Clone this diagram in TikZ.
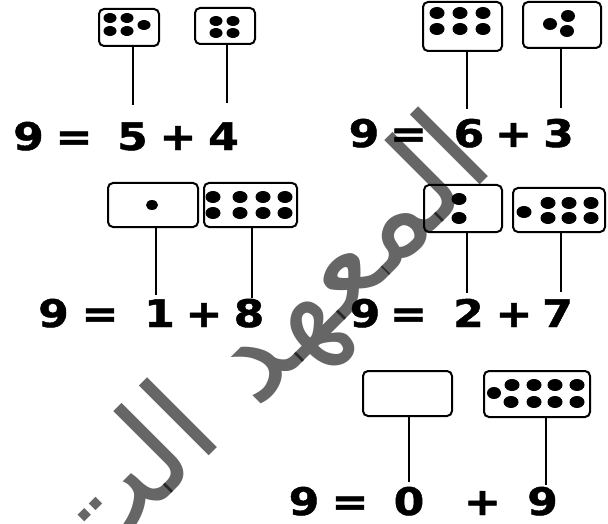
\documentclass[tikz,border=0pt]{standalone}
\usepackage{fontspec}
\setmainfont{DejaVu Sans}
\newfontfamily\numfont[FakeStretch=1.16, FakeBold=1.2]{DejaVu Sans Bold}
\newfontfamily\arabicfont[Script=Arabic]{DejaVu Sans}
\TeXXeTstate=1
\begin{document}
\begin{tikzpicture}[x=1pt,y=-1pt,
  box/.style={draw, line width=2pt, rounded corners=5pt, inner sep=0pt, fill=white},
  num/.style={font=\numfont\fontsize{38}{40}\selectfont, anchor=base, inner sep=0pt},
  stem/.style={line width=2.5pt},
  wm/.style={rotate=45, text=black, text opacity=0.6, inner sep=0pt,
             font=\arabicfont\fontsize{130}{130}\selectfont}]
\useasboundingbox (0,0) rectangle (608,524);

% ---------- boxes ----------
\node[box, minimum width=60pt, minimum height=37pt] (bA) at (129,27.5) {};
\node[box, minimum width=60pt, minimum height=36pt] (bB) at (225,26) {};
\node[box, minimum width=79pt, minimum height=49pt] (bC) at (462.5,26.5) {};
\node[box, minimum width=78pt, minimum height=46pt] (bD) at (562,25) {};
\node[box, minimum width=90pt, minimum height=44pt] (bE) at (153,205) {};
\node[box, minimum width=93pt, minimum height=44pt] (bF) at (250.5,205) {};
\node[box, minimum width=78pt, minimum height=47pt] (bG) at (463,208.5) {};
\node[box, minimum width=92pt, minimum height=44pt] (bH) at (559,210) {};
\node[box, minimum width=89pt, minimum height=45pt] (bI) at (407.5,393.5) {};
\node[box, minimum width=106pt, minimum height=46pt] (bJ) at (537,394) {};

% ---------- dots ----------
\foreach \p in {(110,18),(127,18),(110,31),(127,31),(144,25)} \fill \p ellipse (6.5 and 5);
\foreach \p in {(216,21),(233,21),(216,33),(233,33)} \fill \p ellipse (6.5 and 5);
\foreach \p in {(437,13),(460,13),(483,13),(437,29),(460,29),(483,29)} \fill \p ellipse (7.5 and 6);
\foreach \p in {(550,24),(568,16),(567,31)} \fill \p ellipse (7 and 6);
\fill (152,205) ellipse (6 and 5);
\foreach \x in {213,240,263,285} {\fill (\x,197) ellipse (7.5 and 6); \fill (\x,213) ellipse (7.5 and 6);}
\foreach \p in {(459,199),(459,218)} \fill \p ellipse (7.5 and 6);
\fill (524,212) ellipse (7.5 and 6);
\foreach \x in {548,569,591} {\fill (\x,203) ellipse (7.5 and 6); \fill (\x,218) ellipse (7.5 and 6);}
\fill (494,393) ellipse (7 and 6);
\foreach \x in {512,534,555,577} \fill (\x,385) ellipse (7.5 and 6);
\foreach \x in {511,534,555,577} \fill (\x,402) ellipse (7.5 and 6);

% ---------- stems ----------
\coordinate (sA) at (133,105);
\coordinate (sB) at (227,103);
\coordinate (sC) at (467,109);
\coordinate (sD) at (561,108);
\coordinate (sE) at (156,295);
\coordinate (sF) at (252,298);
\coordinate (sG) at (467,293);
\coordinate (sH) at (561,292);
\coordinate (sI) at (409,482);
\coordinate (sJ) at (546,485);
\foreach \b/\s in {bA/sA,bB/sB,bC/sC,bD/sD,bE/sE,bF/sF,bG/sG,bH/sH,bI/sI,bJ/sJ}
  \draw[stem] (\b.south -| \s) -- (\s);

% ---------- equations ----------
\node[num] (r1a) at (28.5,150) {9};
\node[num] (r1b) at (74,150) {=};
\node[num] (r1c) at (132.5,150) {5};
\node[num] (r1d) at (178,150) {+};
\node[num] (r1e) at (223.5,150) {4};

\node[num] (r2a) at (364,147) {9};
\node[num] (r2b) at (408.5,147) {=};
\node[num] (r2c) at (469,147) {6};
\node[num] (r2d) at (513.5,147) {+};
\node[num] (r2e) at (558.5,147) {3};

\node[num] (r3a) at (53.5,327) {9};
\node[num] (r3b) at (100,327) {=};
\node[num] (r3c) at (159.5,327) {1};
\node[num] (r3d) at (204,327) {+};
\node[num] (r3e) at (249,327) {8};

\node[num] (r4a) at (365,327) {9};
\node[num] (r4b) at (408.5,327) {=};
\node[num] (r4c) at (468.5,327) {2};
\node[num] (r4d) at (514,327) {+};
\node[num] (r4e) at (557.5,327) {7};

\node[num] (r5a) at (304,515) {9};
\node[num] (r5b) at (350,515) {=};
\node[num] (r5c) at (409,515) {0};
\node[num] (r5d) at (482.5,515) {+};
\node[num] (r5e) at (542.5,515) {9};

% ---------- watermark ----------
\begin{scope}
\clip (0,0) rectangle (608,524);
\node[wm, anchor=base east] (wm) at (497,168) {\beginR المعهد الت\endR};
\end{scope}
\end{tikzpicture}
\end{document}
